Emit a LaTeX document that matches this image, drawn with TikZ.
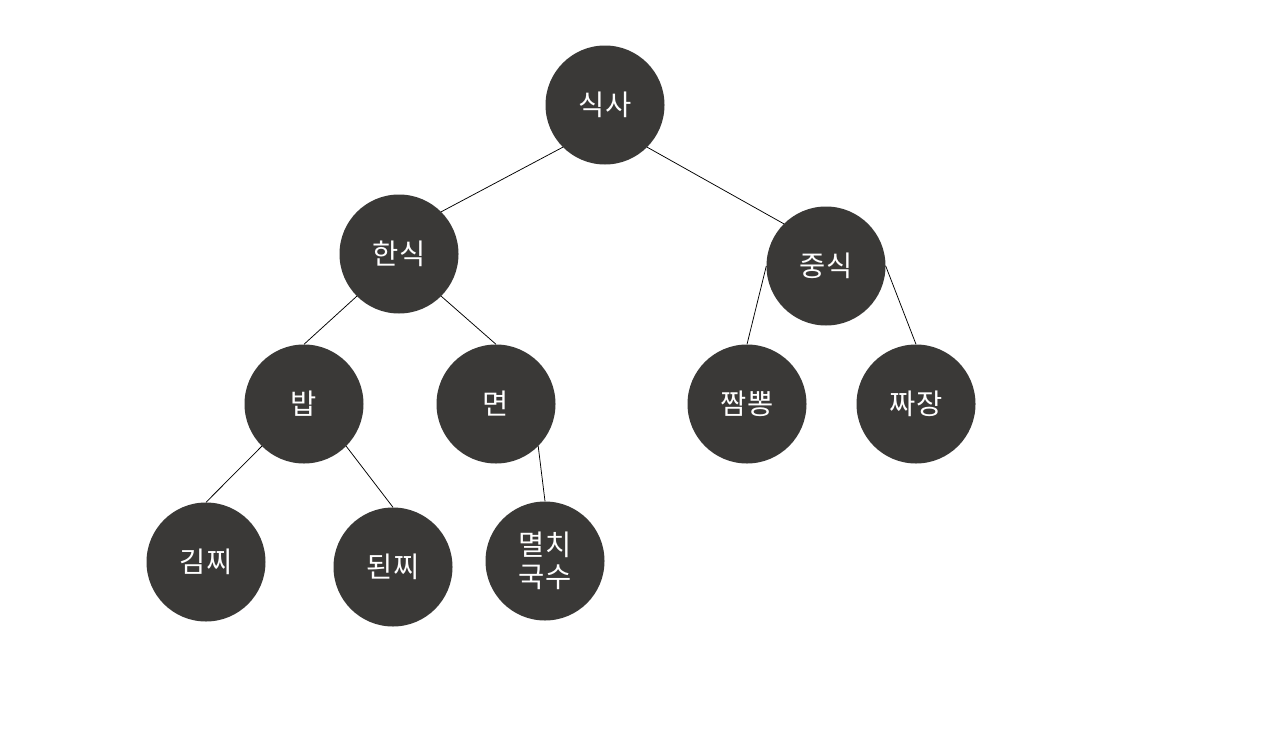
\documentclass[tikz,border=0pt]{standalone}
\usepackage{fontspec}
\newfontfamily\kr{Noto Sans CJK KR}
\begin{document}
\begin{tikzpicture}[x=1pt,y=-1pt,
  food/.style={circle,fill=nodegray,minimum size=119pt,inner sep=0pt,text=white,
    font=\kr\fontsize{28.5}{32}\selectfont,align=center},
  link/.style={draw=black,line width=0.75pt}]
\definecolor{nodegray}{HTML}{3A3937}
\useasboundingbox (0,0) rectangle (1268,728);
\fill[white] (0,0) rectangle (1268,728);
\node[food] (siksa) at (605,105) {식사};
\node[food] (hansik) at (399,254) {한식};
\node[food] (jungsik) at (826,266) {중식};
\node[food] (bap) at (304,404) {밥};
\node[food] (myeon) at (496,404) {면};
\node[food] (jjamppong) at (747,404) {짬뽕};
\node[food] (jjajang) at (916,404) {짜장};
\node[food] (kimjji) at (206,562) {김찌};
\node[food] (doenjji) at (393,567) {된찌};
\node[food] (myeolchi) at (545,561) {멸치\\국수};
\draw[link] (siksa.south west) -- (hansik.north east);
\draw[link] (siksa.south east) -- (jungsik.north west);
\draw[link] (hansik.south west) -- (bap.north);
\draw[link] (hansik.south east) -- (myeon.north);
\draw[link] (jungsik.west) -- (jjamppong.north);
\draw[link] (jungsik.east) -- (jjajang.north);
\draw[link] (bap.south west) -- (kimjji.north);
\draw[link] (bap.south east) -- (doenjji.north);
\draw[link] (myeon.south east) -- (myeolchi.north);
\end{tikzpicture}
\end{document}
